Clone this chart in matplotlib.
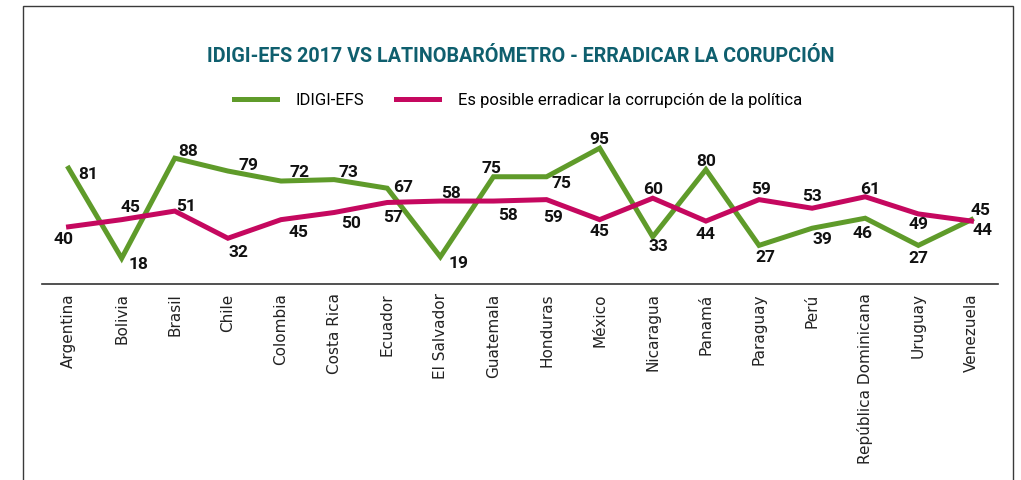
import matplotlib
matplotlib.use("Agg")
import matplotlib.pyplot as plt
from matplotlib.patches import Rectangle

# Data
countries = ['Argentina', 'Bolivia', 'Brasil', 'Chile', 'Colombia', 'Costa Rica',
             'Ecuador', 'El Salvador', 'Guatemala', 'Honduras', 'México', 'Nicaragua',
             'Panamá', 'Paraguay', 'Perú', 'República Dominicana', 'Uruguay', 'Venezuela']
idigi = [81, 18, 88, 79, 72, 73, 67, 19, 75, 75, 95, 33, 80, 27, 39, 46, 27, 45]
latino = [40, 45, 51, 32, 45, 50, 57, 58, 58, 59, 45, 60, 44, 59, 53, 61, 49, 44]

title = 'IDIGI-EFS 2017 VS LATINOBARÓMETRO - ERRADICAR LA CORUPCIÓN'
name_idigi = 'IDIGI-EFS'
name_latino = 'Es posible erradicar la corrupción de la política'

# label offsets (pixels, x right / y down) for the value labels
off_idigi = [(20, 5), (17, 5), (13, -8), (21, -7), (18, -10), (14, -8), (16, -2), (18, 6),
             (-2, -9), (15, 6), (0, -10), (6, 9), (0, -9), (6, 11), (10, 10), (-3, 14),
             (0, 12), (9, -10)]
off_latino = [(-5, 12), (9, -13), (11, -6), (11, 13), (17, 12), (17, 10), (6, 14), (11, -9),
              (15, 13), (7, 17), (0, 11), (0, -10), (0, 12), (2, -11), (0, -13), (5, -8),
              (0, 10), (11, 8)]

green = '#5f9b2a'
magenta = '#c5085f'
teal = '#0f5f6e'

W, H = 1021, 481
fig = plt.figure(figsize=(W / 100, H / 100), dpi=100)

# outer frame (bottom edge falls outside the picture)
fig.patches.append(Rectangle((23 / W, -0.05), (1013 - 23) / W, (H - 7) / H + 0.05,
                             transform=fig.transFigure, fill=False,
                             edgecolor='#3a3a3a', linewidth=1.0))

ax = fig.add_axes([42 / W, (H - 285) / H, (998 - 42) / W, 143 / H])
x = list(range(len(countries)))
ax.plot(x, idigi, color=green, linewidth=3.6, solid_joinstyle='miter', label=name_idigi)
ax.plot(x, latino, color=magenta, linewidth=3.6, solid_joinstyle='miter', label=name_latino)

for i in x:
    ax.annotate(str(idigi[i]), (i, idigi[i]), xytext=(off_idigi[i][0], -off_idigi[i][1]),
                textcoords='offset pixels', ha='center', va='center',
                fontsize=12.5, fontweight='bold', family='Roboto', color='#111111',
                annotation_clip=False)
    ax.annotate(str(latino[i]), (i, latino[i]), xytext=(off_latino[i][0], -off_latino[i][1]),
                textcoords='offset pixels', ha='center', va='center',
                fontsize=12.5, fontweight='bold', family='Roboto', color='#111111',
                annotation_clip=False)

ax.set_xlim(-0.5, len(countries) - 0.5)
ax.set_ylim(0, 100)
ax.set_xticks(x)
ax.set_xticklabels(countries, rotation=90, fontsize=11, color='#222222', family='DejaVu Sans')
ax.tick_params(axis='x', length=0, pad=6)
ax.set_yticks([])
for s in ['top', 'right', 'left']:
    ax.spines[s].set_visible(False)
ax.spines['bottom'].set_color('#333333')
ax.spines['bottom'].set_linewidth(1.2)
ax.patch.set_alpha(0)

fig.text(521 / W, 1 - 57 / H, title, ha='center', va='center', fontsize=14.2,
         fontweight='bold', family='Roboto', color=teal)

fig.legend(loc='center', bbox_to_anchor=(518 / W, 1 - 101 / H), ncol=2, frameon=False,
           prop={'family': 'Roboto', 'size': 12}, handlelength=2.6, columnspacing=1.9,
           handletextpad=1.1)

fig.savefig('out.png', dpi=100)
